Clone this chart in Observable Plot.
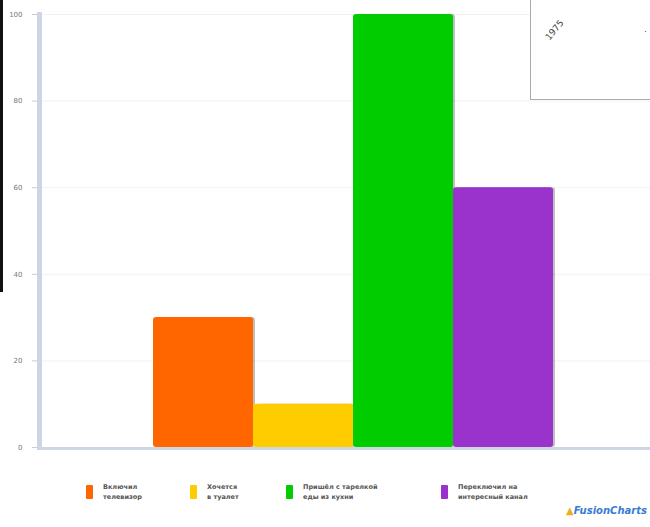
<!DOCTYPE html>
<html>
<head>
<meta charset="utf-8">
<script src="https://cdn.jsdelivr.net/npm/d3@7"></script>
<script src="https://cdn.jsdelivr.net/npm/@observablehq/plot@0.6"></script>
<style>
  html, body { margin: 0; padding: 0; background: #fff; }
  #wrap { position: relative; width: 650px; height: 527px; overflow: hidden; font-family: "DejaVu Sans", sans-serif; }
  #chart { position: absolute; left: 0; top: 0; }
  .blackbar { position: absolute; left: 0; top: 0; width: 3px; height: 292px; background: #111; }
  .box { position: absolute; left: 530px; top: -2px; width: 130px; height: 100px; border: 1px solid #aaa; background: #fff; }
  .box .t1 { position: absolute; left: 12px; top: 26px; font-size: 9px; color: #444; transform: rotate(-50deg); }
  .box .t2 { position: absolute; left: 113px; top: 28px; font-size: 9px; color: #444; }
  #legend { position: absolute; left: 0; top: 482px; width: 650px; height: 24px; }
  .li { position: absolute; top: 0; display: flex; align-items: center; }
  .sw { width: 7px; height: 14px; margin-right: 10px; border-radius: 1px; }
  .lt { font-size: 6.5px; font-weight: bold; color: #555; line-height: 10px; }
  #logo { position: absolute; left: 566px; top: 505px; font-size: 10px; font-weight: bold; font-style: italic; color: #3a7bd5; white-space: nowrap; }
  #logo span { color: #e8b21a; font-style: normal; }
</style>
</head>
<body>
<div id="wrap">
  <div id="chart"></div>
  <div class="blackbar"></div>
  <div class="box"><div class="t1">1975</div><div class="t2">·</div></div>
  <div id="legend"></div>
  <div id="logo"><span>▲</span>FusionCharts</div>
</div>
<script>
const series = ["Включил телевизор", "Хочется в туалет", "Пришёл с тарелкой еды из кухни", "Переключил на интересный канал"];
const values = [30, 10, 100, 60];
const colors = ["#FF6600", "#FFCC00", "#00CC00", "#9933CC"];
const legendLines = [["Включил", "телевизор"], ["Хочется", "в туалет"], ["Пришёл с тарелкой", "еды из кухни"], ["Переключил на", "интересный канал"]];
const legendX = [86, 190, 286, 441];
const yTicks = [0, 20, 40, 60, 80, 100];

const data = series.map((s, i) => ({series: s, value: values[i]}));

const chart = Plot.plot({
  width: 650,
  height: 470,
  marginLeft: 40,
  marginRight: 0,
  marginTop: 14,
  marginBottom: 23,
  style: {background: "transparent", fontFamily: "DejaVu Sans, sans-serif"},
  x: {domain: series, range: [152, 553], padding: 0, axis: null},
  y: {domain: [0, 100], ticks: yTicks, label: null},
  color: {domain: series, range: colors},
  marks: [
    Plot.gridY(yTicks, {stroke: "#f1f2f5", strokeOpacity: 1}),
    Plot.barY(data, {x: "series", y: "value", fill: "#000", fillOpacity: 0.25, dx: 2, rx: 3, insetLeft: 2}),
    Plot.barY(data, {x: "series", y: "value", fill: "series", rx: 3}),
    Plot.ruleY([0], {stroke: "#cdd6e2", strokeWidth: 3, dy: 1}),
    Plot.axisY(yTicks, {tickSize: 8, tickPadding: 10, fontSize: 7, fill: "#777", stroke: "#ccc", label: null}),
    Plot.frame({anchor: "left", stroke: "#cdd6e2", strokeWidth: 5, dx: -1})
  ]
});
document.getElementById("chart").appendChild(chart);

const legend = document.getElementById("legend");
series.forEach((s, i) => {
  const li = document.createElement("div");
  li.className = "li";
  li.style.left = legendX[i] + "px";
  const sw = document.createElement("div");
  sw.className = "sw";
  sw.style.background = colors[i];
  const lt = document.createElement("div");
  lt.className = "lt";
  lt.innerHTML = legendLines[i].join("<br>");
  li.appendChild(sw);
  li.appendChild(lt);
  legend.appendChild(li);
});
</script>
</body>
</html>
